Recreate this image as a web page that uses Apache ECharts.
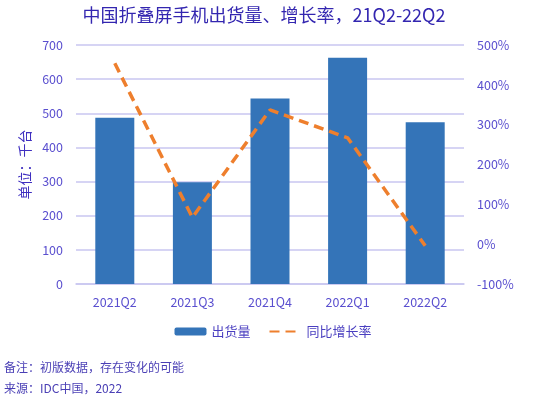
<!DOCTYPE html>
<html>
<head>
<meta charset="utf-8">
<script src="https://cdn.jsdelivr.net/npm/echarts@6/dist/echarts.min.js"></script>
<style>
html,body{margin:0;padding:0;background:#fff;}
#c{width:546px;height:397px;}
</style>
</head>
<body>
<div id="c"></div>
<script>
var categories = ['2021Q2','2021Q3','2021Q4','2022Q1','2022Q2'];
var shipments = [487, 298, 543, 663, 474];
var growth = [454, 67, 337, 267, -4];
var leftTicks = [0,100,200,300,400,500,600,700];

var font = '"Microsoft YaHei","Noto Sans CJK SC","Noto Sans",sans-serif';
var labelColor = '#5a4fcf';
var chart = echarts.init(document.getElementById('c'));
chart.setOption({
  animation: false,
  textStyle: {fontFamily: font},
  title: {
    text: '中国折叠屏手机出货量、增长率，21Q2-22Q2',
    left: 259, textAlign: 'center', top: 1,
    textStyle: {fontSize: 18, fontWeight: 'normal', color: '#3326b0', fontFamily: font}
  },
  grid: {left: 76, right: 82, top: 45, bottom: 113},
  legend: {
    data: [{name:'出货量'},{name:'同比增长率', itemStyle: {opacity: 0}}],
    top: 320, left: 'center',
    itemWidth: 32, itemHeight: 8, itemGap: 18,
    textStyle: {fontSize: 13, color: '#4a3fc0', fontFamily: font}
  },
  xAxis: {
    type: 'category', data: categories,
    axisLine: {show: true, lineStyle: {color: '#c9c6f0', width: 1.5}},
    axisTick: {show: false},
    axisLabel: {color: labelColor, fontSize: 12.5, margin: 12}
  },
  yAxis: [{
    type: 'value', min: 0, max: 700, interval: 100,
    name: '单位：千台', nameLocation: 'middle', nameGap: 44, nameRotate: 90,
    nameTextStyle: {color: '#3f2fc0', fontSize: 14, fontFamily: font},
    axisLine: {show: false}, axisTick: {show: false},
    axisLabel: {color: labelColor, fontSize: 12.5, margin: 13},
    splitLine: {lineStyle: {color: '#c9c6f0', width: 1.5}}
  },{
    type: 'value', min: -100, max: 500, interval: 100,
    axisLine: {show: false}, axisTick: {show: false},
    axisLabel: {color: labelColor, fontSize: 12.5, margin: 13, formatter: '{value}%'},
    splitLine: {show: false}
  }],
  series: [{
    name: '出货量', type: 'bar', data: shipments, barWidth: 39,
    itemStyle: {color: '#3474b8'}
  },{
    name: '同比增长率', type: 'line', yAxisIndex: 1, data: growth,
    symbol: 'none', smooth: false,
    lineStyle: {color: '#ee7f2d', width: 3.5, type: [10, 6]},
    itemStyle: {color: '#ee7f2d'}
  }],
  graphic: [{
    type: 'text', left: 4, top: 361,
    style: {text: '备注：初版数据，存在变化的可能', fill: '#4a3fb5', fontSize: 12, fontFamily: font}
  },{
    type: 'text', left: 4, top: 382,
    style: {text: '来源：IDC中国，2022', fill: '#4a3fb5', fontSize: 12, fontFamily: font}
  }]
});
</script>
</body>
</html>
